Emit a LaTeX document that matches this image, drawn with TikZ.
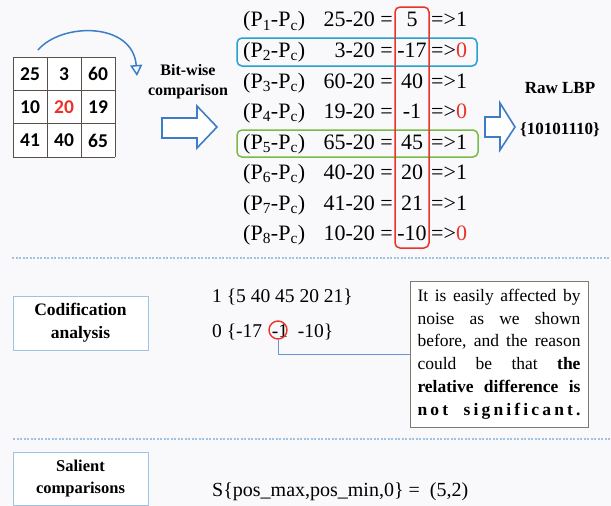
\documentclass[tikz,border=0pt]{standalone}
\usepackage{fontspec}
\setmainfont{Liberation Serif}
\newfontfamily\gridfont{Carlito}
\usetikzlibrary{arrows.meta}
\definecolor{lbpblue}{RGB}{61,125,200}
\definecolor{lbplight}{RGB}{157,195,230}
\definecolor{lbpcyan}{RGB}{40,160,210}
\definecolor{lbpgreen}{RGB}{122,186,72}
\definecolor{lbpred}{RGB}{235,50,40}
\definecolor{lbpback}{RGB}{249,249,252}
\definecolor{lbpgrid}{RGB}{90,80,75}
\definecolor{lbpnote}{RGB}{127,120,115}
\newcommand{\noteline}[1]{\leavevmode\hbox to 163pt{#1}}

\begin{document}
\begin{tikzpicture}[x=1pt,y=-1pt,
    rowtxt/.style={inner sep=0pt,font=\fontsize{22}{24}\selectfont},
    settxt/.style={inner sep=0pt,font=\fontsize{19.5}{22}\selectfont},
    headtxt/.style={inner sep=0pt,align=center,font=\fontsize{16}{20}\selectfont\bfseries},
    cell/.style={inner sep=0pt,font=\gridfont\bfseries\fontsize{19.5}{20}\selectfont},
    hollow/.style={draw=lbpblue,line width=1.6pt,fill=white,line join=miter},
    rowbox/.style={line width=1.5pt,rounded corners=5pt},
    divider/.style={lbplight,line width=1.2pt,dash pattern=on 2pt off 1.5pt},
    labelbox/.style={draw=lbplight,line width=1pt,fill=white,minimum width=135pt,
      inner sep=0pt,align=center}]
    \useasboundingbox (0,0) rectangle (611,506);
    \fill[lbpback] (0,0) rectangle (611,506);
    % 3x3 neighbourhood
    \fill[white] (13,57) rectangle (115,157);
    \foreach \k in {0,...,3} {
      \draw[lbpgrid,line width=0.8pt] (13+34*\k,57) -- ++(0,100);
      \draw[lbpgrid,line width=0.8pt] (13,57+33.33*\k) -- ++(102,0);
    }
    \foreach \v/\c/\r/\col in {25/0/0/black,3/1/0/black,60/2/0/black,
        10/0/1/black,20/1/1/lbpred,19/2/1/black,41/0/2/black,40/1/2/black,65/2/2/black}
      \node[cell,text=\col] (cell\c\r) at (30+34*\c,74+33.33*\r) {\v};
    \coordinate (arcstart) at (38,50);
    \coordinate (arcend) at (137,76);
    \draw[lbpblue,line width=1.5pt,-{Triangle[length=11pt,width=12pt,fill=white]}]
      (arcstart) .. controls (62,22) and (133,22) .. (arcend);
    \node[headtxt] (bitwise) at (188,82) {Bit-wise\\comparison};
    \draw[hollow] (162,118) -- (197,118) -- (197,106) -- (217,127)
      -- (197,148) -- (197,138) -- (162,138) -- cycle;
    % differences to the centre pixel
    \foreach \i/\p/\d/\b/\bc in {1/25/5/1/black,2/3/-17/0/lbpred,3/60/40/1/black,
        4/19/-1/0/lbpred,5/65/45/1/black,6/40/20/1/black,7/41/21/1/black,8/10/-10/0/lbpred} {
      \node[rowtxt,anchor=base west] (lab\i) at (243,{27+30.5*(\i-1)})
        {(P\textsubscript{\i}-P\textsubscript{c})};
      \node[rowtxt,anchor=base east] (eq\i) at (393,{27+30.5*(\i-1)}) {\p-20 =};
      \node[rowtxt,anchor=base] (val\i) at (412,{27+30.5*(\i-1)}) {\d};
      \node[rowtxt,anchor=base west] (bit\i) at (431,{27+30.5*(\i-1)})
        {=>\textcolor{\bc}{\b}};
    }
    \draw[rowbox,lbpcyan] (237,38) rectangle (477,66);
    \draw[rowbox,lbpgreen] (237,130) rectangle (478,157);
    \draw[rowbox,lbpred] (395,7) rectangle (429,248);
    \draw[hollow] (485,117) -- (500,117) -- (500,103) -- (515,127)
      -- (500,150) -- (500,137) -- (485,137) -- cycle;
    \node[headtxt,font=\fontsize{17}{20}\selectfont\bfseries] (rawlbp) at (560,88) {Raw LBP};
    \node[headtxt,font=\fontsize{17}{20}\selectfont\bfseries] (code) at (560,130) {\{10101110\}};
    \draw[divider] (12,258) -- (611,258);
    % codification
    \node[labelbox,minimum height=54pt,font=\fontsize{17.5}{23}\selectfont\bfseries]
      (codif) at (80.5,323) {Codification\\analysis};
    \node[settxt,anchor=base west] (ones) at (212,302) {1 \{5 40 45 20 21\}};
    \node[settxt,anchor=base west] (zeros) at (212,337) {0 \{-17 \ -1 \ -10\}};
    \node[draw=lbpred,line width=1.4pt,circle,minimum size=18pt,inner sep=0pt] (noise) at (278,330) {};
    \node[draw=lbpnote,line width=1pt,fill=white,text width=163pt,inner xsep=7.5pt,
      inner ysep=6pt,minimum height=146pt,align=left,font=\fontsize{17.5}{22.8}\selectfont]
      (note) at (499,354) {%
      \noteline{It\hfill is\hfill easily\hfill affected\hfill by}\\
      \noteline{noise\hfill as\hfill we\hfill shown}\\
      \noteline{before,\hfill and\hfill the\hfill reason}\\
      \noteline{could\hfill be\hfill that\hfill \textbf{the}}\\
      \noteline{\bfseries relative\hfill difference\hfill is}\\
      \noteline{\bfseries\addfontfeature{LetterSpace=18}not\hfill significant.}};
    \draw[lbpblue!80,line width=0.9pt] (noise.south) |- (note.west);
    \draw[divider] (13,439) -- (611,439);
    % salient comparisons
    \node[labelbox,minimum height=53pt,font=\fontsize{16.5}{24}\selectfont\bfseries]
      (salient) at (80.5,479) {\raisebox{-2pt}{Salient}\\comparisons};
    \node[rowtxt,font=\fontsize{20}{22}\selectfont,anchor=base west] (smax) at (212,496)
      {S\{pos\_max,pos\_min,0\} = \ (5,2)};
\end{tikzpicture}
\end{document}
